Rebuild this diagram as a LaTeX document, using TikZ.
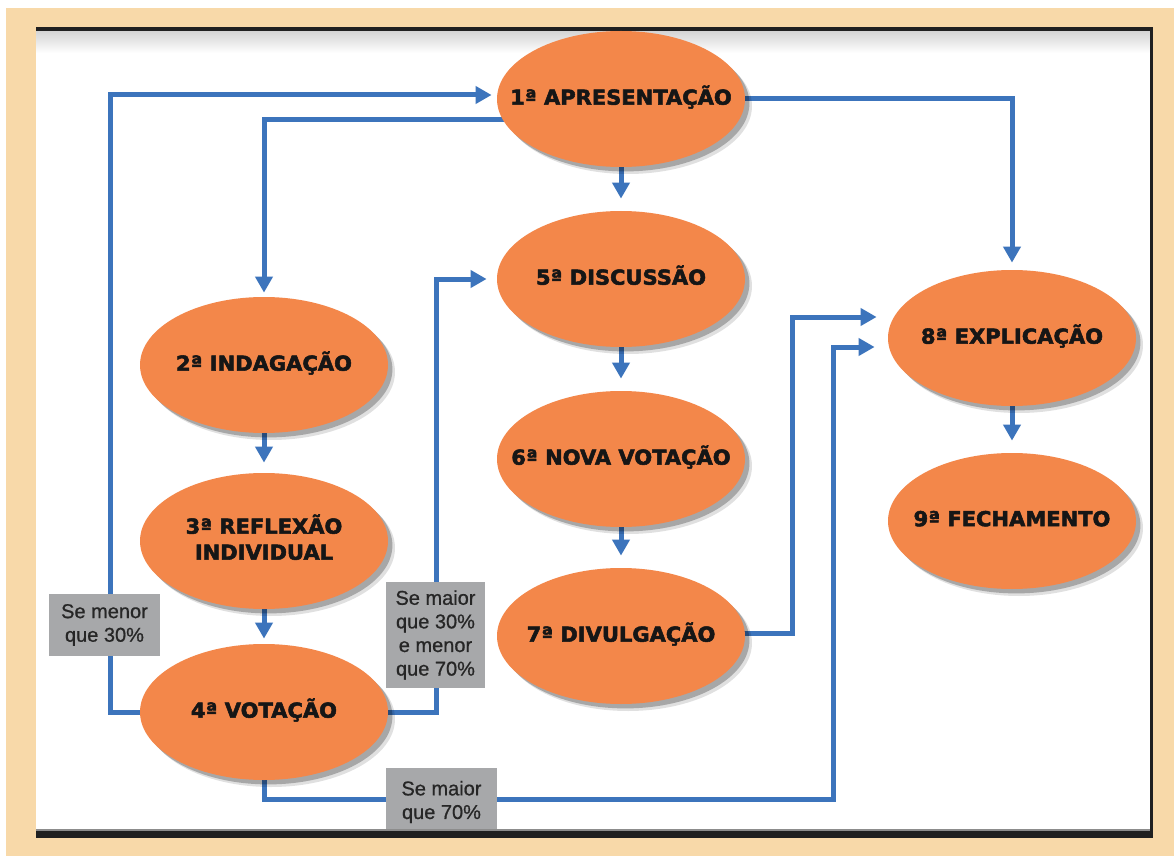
\documentclass[tikz,border=0pt]{standalone}
\usepackage{fontspec}
\setmainfont{Liberation Sans}
\newfontfamily\heavyfont[FakeBold=2.5,FakeStretch=1.02]{DejaVu Sans Bold}
\newfontfamily\condfont[FakeBold=0.8]{Liberation Sans}
\usetikzlibrary{arrows.meta,shapes.geometric,shadows,backgrounds}
\definecolor{beige}{HTML}{F8D9A9}
\definecolor{orangefill}{HTML}{F3874A}
\definecolor{flowblue}{HTML}{3C74BC}
\definecolor{labelgray}{HTML}{A7A8AA}
\definecolor{labeltext}{HTML}{262626}
\definecolor{textdark}{HTML}{161616}
\definecolor{framedark}{HTML}{202020}
\newcommand{\stxt}[1]{\makebox[0pt][c]{\begin{tabular}{@{}c@{}}#1\end{tabular}}}
\begin{document}
\begin{tikzpicture}[x=0.5pt,y=-0.5pt,
  stage/.style={ellipse, fill=orangefill, minimum width=124pt, minimum height=68pt,
    inner sep=0pt, font=\heavyfont\fontsize{10.3}{13}\selectfont, text=textdark,
    drop shadow={shadow xshift=3.5pt, shadow yshift=-3.5pt, opacity=0.12, fill=black},
    drop shadow={shadow xshift=2.2pt, shadow yshift=-2.2pt, opacity=0.25, fill=black}},
  cond/.style={fill=labelgray, inner sep=0pt, align=center,
    font=\condfont\fontsize{10}{11.8}\selectfont, text=labeltext},
  flow/.style={draw=flowblue, line width=2.5pt, -{Triangle[length=8pt,width=8.5pt]}},
]
\useasboundingbox (0,0) rectangle (1174,856);
\begin{pgfonlayer}{background}
  \fill[white] (0,0) rectangle (1174,856);
  \fill[beige] (6,8) rectangle (1174,856);
  \fill[white] (36,31) rectangle (1150,830);
  \shade[top color=black!17, bottom color=white] (36,31) rectangle (1150,53);
  \fill[framedark] (36,27) rectangle (1153,31);
  \fill[framedark] (1150,27) rectangle (1153,838);
\end{pgfonlayer}

% stages
\node[stage] (n1) at (621,99)  {\stxt{1ª APRESENTAÇÃO}};
\node[stage] (n2) at (264,365) {\stxt{2ª INDAGAÇÃO}};
\node[stage] (n3) at (264,541) {\stxt{3ª REFLEXÃO\\INDIVIDUAL}};
\node[stage] (n4) at (264,712) {\stxt{4ª VOTAÇÃO}};
\node[stage] (n5) at (621,279) {\stxt{5ª DISCUSSÃO}};
\node[stage] (n6) at (621,459) {\stxt{6ª NOVA VOTAÇÃO}};
\node[stage] (n7) at (621,636) {\stxt{7ª DIVULGAÇÃO}};
\node[stage] (n8) at (1012,338) {\stxt{8ª EXPLICAÇÃO}};
\node[stage] (n9) at (1012,521) {\stxt{9ª FECHAMENTO}};

% routing points
\coordinate (h1) at (110,95);
\coordinate (h2) at (263,120);
\coordinate (h3) at (436,279);
\coordinate (h4) at (833,799);
\coordinate (h5) at (833,347);
\coordinate (h6) at (792,633);
\coordinate (h7) at (792,317);

\begin{pgfonlayer}{background}
  \draw[flow, shorten >=6pt] (n1.south) -- (n5.north);
  \draw[flow, shorten >=6pt] (n5.south) -- (n6.north);
  \draw[flow, shorten >=6pt] (n6.south) -- (n7.north);
  \draw[flow, shorten >=5pt] (n2.south) -- (n3.north);
  \draw[flow, shorten >=2.5pt] (n3.south) -- (n4.north);
  \draw[flow, shorten >=6pt] (n8.south) -- (n9.north);
  \draw[flow, shorten >=2.5pt] (n4.center) -| (h1) -- (n1.west |- h1);
  \draw[flow, shorten >=2pt] (n1.center |- h2) -| (n2.north);
  \draw[flow, shorten >=3.5pt] (n1.center) -| (n8.north);
  \draw[flow, shorten >=5pt] (n4.center) -| (h3) -- (n5.west);
  \draw[flow, shorten >=6.5pt] (n4.center) |- (h4) -- (h5) -- (n8.west |- h5);
  \draw[flow, shorten >=5.5pt] (n7.center |- h6) -| (h7) -- (n8.west |- h7);
\end{pgfonlayer}

% condition labels
\node[cond, minimum width=55.5pt, minimum height=31pt] (l1) at (104.5,625) {Se menor\\que 30\%};
\node[cond, minimum width=49.5pt, minimum height=53pt] (l2) at (435.5,635) {Se maior\\que 30\%\\e menor\\que 70\%};
\node[cond, minimum width=55.5pt, minimum height=34pt] (l3) at (441.5,802) {Se maior\\que 70\%};

% bottom frame bar
\fill[black!45] (36,829) rectangle (1150,830.5);
\fill[framedark] (36,830.5) rectangle (1153,838);
\end{tikzpicture}
\end{document}
